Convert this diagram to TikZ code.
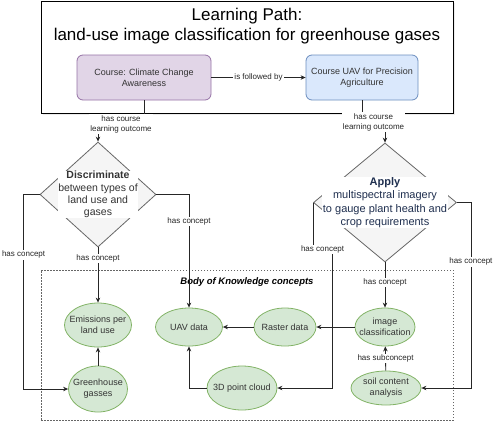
\documentclass[tikz,border=0pt]{standalone}
\usepackage{fontspec}
\setmainfont{Liberation Sans}
\usetikzlibrary{shapes.geometric,arrows.meta,shadows}
\definecolor{lilafill}{HTML}{E1D5E7}
\definecolor{lilarand}{HTML}{9673A6}
\definecolor{blaufill}{HTML}{DAE8FC}
\definecolor{blaurand}{HTML}{6C8EBF}
\definecolor{gruenfill}{HTML}{D5E8D4}
\definecolor{gruenrand}{HTML}{82B366}
\definecolor{graufill}{HTML}{F5F5F5}
\definecolor{graurand}{HTML}{666666}
\definecolor{textgrau}{HTML}{333333}
\definecolor{applyblau}{HTML}{1F2F4F}

\begin{document}
\begin{tikzpicture}[x=1pt, y=-1pt,
	kurs/.style={draw, rounded corners=6pt, minimum height=45pt, align=center,
	text=textgrau, font=\fontsize{9}{11}\selectfont, line width=0.8pt},
	raute/.style={diamond, draw=graurand, fill=graufill, line width=0.8pt,
	inner sep=0pt},
	rautetext/.style={fill=white, inner sep=0.5pt, align=center},
	konzept/.style={ellipse, draw=gruenrand, fill=gruenfill, line width=0.8pt,
	inner sep=0pt},
	konzepttext/.style={align=center, text=textgrau, inner sep=0pt,
	font=\fontsize{9}{10.7}\selectfont},
	pfeil/.style={-{Stealth[length=5pt,width=4.5pt]}, line width=0.8pt,
	draw=black!85},
	beschr/.style={fill=white, inner sep=1pt, align=center, text=black!85,
	font=\fontsize{8}{10.5}\selectfont}]
	\useasboundingbox (0,0) rectangle (500,429);
	% Lernpfad
	\node[draw, fill=white, line width=1pt, minimum width=412pt,
	minimum height=112pt, drop shadow={shadow xshift=1.5pt,
	shadow yshift=-1.5pt, fill=black!15}] (pfad) at (247,57) {};
	\node[align=center, font=\fontsize{17}{20}\selectfont] (titel) at (247,26)
	{Learning Path:\\land-use image classification for greenhouse gases};
	\node[kurs, draw=lilarand, fill=lilafill, minimum width=134pt] (klima) at
	(144,77.5) {Course: Climate Change\\Awareness};
	\node[kurs, draw=blaurand, fill=blaufill, minimum width=112pt] (uav) at
	(362,77.5) {Course UAV for Precision\\Agriculture};

	% Body of Knowledge
	\node[draw=graurand, dash pattern=on 1.5pt off 1.5pt, line width=0.9pt,
	minimum width=412pt, minimum height=150pt] (bok) at (247,345) {};
	\node[font=\fontsize{9.5}{11}\selectfont\bfseries\itshape] (boktitel) at
	(247,282) {Body of Knowledge concepts};

	% Lernergebnisse
	\node[raute, minimum width=116pt, minimum height=105pt] (diskr) at
	(98,194.5) {};
	\node[rautetext, text=textgrau, font=\fontsize{10.5}{12.3}\selectfont]
	(diskrtext) at (diskr) {\textbf{Discriminate}\\between types of\\land use
	and\\gases};
	\node[raute, minimum width=143pt, minimum height=119pt] (anw) at
	(385,202.5) {};
	\node[rautetext, text=applyblau, font=\fontsize{11}{13.5}\selectfont]
	(anwtext) at (anw) {\textbf{Apply}\\multispectral imagery\\to gauge plant
	health and\\crop requirements};

	% Konzepte
	\node[konzept, minimum width=67pt, minimum height=44pt] (emis) at (98,325) {};
	\node[konzepttext] (emistext) at (emis) {Emissions per\\land use};
	\node[konzept, minimum width=59pt, minimum height=46pt] (ghg) at (98,389) {};
	\node[konzepttext] (ghgtext) at (ghg) {Greenhouse\\gasses};
	\node[konzept, minimum width=67pt, minimum height=38pt] (uavdaten) at
	(189,327) {};
	\node[konzepttext] (uavdatentext) at (uavdaten) {UAV data};
	\node[konzept, minimum width=62pt, minimum height=38pt] (raster) at
	(285,327) {};
	\node[konzepttext] (rastertext) at (raster) {Raster data};
	\node[konzept, minimum width=60pt, minimum height=38pt] (bildklass) at
	(385,327) {};
	\node[konzepttext] (bildklasstext) at (bildklass) {image\\classification};
	\node[konzept, minimum width=70pt, minimum height=44pt] (punktwolke) at
	(242,388) {};
	\node[konzepttext] (punktwolketext) at (punktwolke) {3D point cloud};
	\node[konzept, minimum width=70pt, minimum height=34pt] (boden) at
	(386,388) {};
	\node[konzepttext] (bodentext) at (boden) {soil content\\analysis};

	% Verbindungen Kurse
	\draw[pfeil] (klima) -- node[beschr] {is followed by} (uav);
	\draw[pfeil] (klima.south) -- ++(0,24) -| node[beschr, pos=0.25]
	{has course\\learning outcome} (diskr.north);
	\draw[pfeil] (uav.south) -- ++(0,22) -| node[beschr, pos=0.25]
	{has course\\learning outcome} (anw.north);

	% Verbindungen Discriminate
	\draw[pfeil] (diskr.west) -- ++(-16,0) |- node[beschr, pos=0.155]
	{has concept} (ghg.west);
	\draw[pfeil] (diskr.south) -- node[beschr, pos=0.2] {has concept}
	(emis.north);
	\draw[pfeil] (diskr.east) -| node[beschr, pos=0.62] {has concept}
	(uavdaten.north);

	% Verbindungen Apply
	\draw[pfeil] (anw.west) -- ++(0,47) -- node[beschr] {has concept}
	++(19,0) |- (punktwolke.east);
	\draw[pfeil] (anw.south) -- node[beschr, pos=0.45] {has concept}
	(bildklass.north);
	\draw[pfeil] (anw.east) -- ++(14,0) |- node[beschr, pos=0.16]
	{has concept} (boden.east);

	% Verbindungen Konzepte
	\draw[pfeil] (bildklass) -- (raster);
	\draw[pfeil] (raster) -- (uavdaten);
	\draw[pfeil] (punktwolke.west) -| (uavdaten.south);
	\draw[pfeil] (ghg) -- (emis);
	\draw[pfeil] (boden) -- node[beschr] {has subconcept} (bildklass);
\end{tikzpicture}
\end{document}
